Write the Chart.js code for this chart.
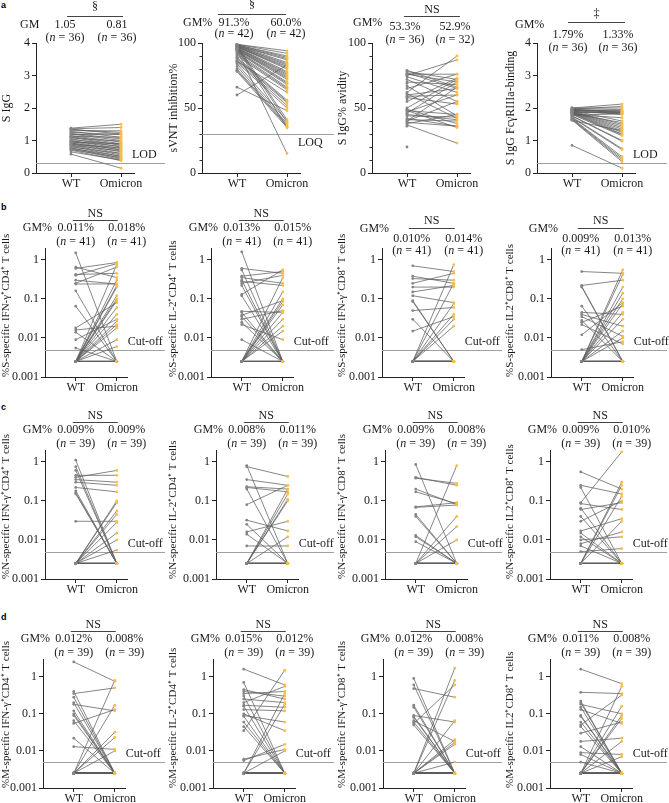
<!DOCTYPE html>
<html>
<head>
<meta charset="utf-8">
<script src="https://cdn.jsdelivr.net/npm/chart.js@4.4.1/dist/chart.umd.min.js"></script>
<style>
  body { margin: 0; background: #fff; width: 669px; height: 803px; position: relative; overflow: hidden; }
  canvas { position: absolute; }
  .tag { position: absolute; font: bold 9px "Liberation Sans", Arial, sans-serif; color: #000; }
</style>
</head>
<body>
<div class="tag" style="left:1px;top:0px">a</div>
<div class="tag" style="left:1px;top:202px">b</div>
<div class="tag" style="left:1px;top:402px">c</div>
<div class="tag" style="left:1px;top:612px">d</div>

<script>
// groups on the x axis
const groups = ['WT', 'Omicron'];
// below cut-off, plotted at half the cut-off
const nd = 0.0025;

// a: antibody readouts
const sIgGWT = [1.38,1.36,1.35,1.33,1.30,1.28,1.25,1.22,1.20,1.18,1.15,1.13,1.12,1.10,1.08,1.05,1.03,1.00,0.98,0.97,0.95,0.93,0.92,0.90,0.88,0.86,0.85,0.83,0.80,0.78,0.76,0.74,0.72,0.70,0.65,0.58];
const sIgGOm = [1.50,1.40,1.20,1.25,1.30,1.10,1.18,1.05,1.00,1.20,0.95,1.10,0.90,0.85,0.98,0.80,0.88,0.75,0.82,0.70,0.90,0.65,0.72,0.60,0.78,0.55,0.68,0.50,0.60,0.45,0.52,0.42,0.48,0.38,0.40,0.15];
const svntWT = [99,99,98.5,98.5,98,98,98,97.5,97.5,97,97,97,96.5,96,96,95.5,95,95,94.5,94,93.5,93,92,91,90,89,88,87,86,85,84,82,80,79,78,98,97,96,95,66,60,86];
const svntOm = [94,92,90,89,88,87,85,84,83,82,81,80,78,77,76,75,74,73,72,70,69,68,66,65,64,56,55,54,52,50,40,38,37,36,35,41,39,35,15,48,83,62];
const avidWT = [79,78,77,76,76,75,74,72,70,67,65,62,61,60,59,58,55,50,49,48,48,47,46,45,44,42,41,40,40,39,38,37,36,20,57,69];
const avidOm = [66,72,65,76,70,87,62,55,68,44,76,90,42,65,60,53,73,72,38,45,35,60,70,41,43,36,40,55,66,36,45,23,null,null,null,null];
const fcgWT = [2.00,2.00,1.98,1.97,1.96,1.95,1.95,1.94,1.93,1.92,1.92,1.90,1.90,1.89,1.88,1.88,1.87,1.86,1.85,1.85,1.84,1.83,1.82,1.80,1.80,1.78,1.76,1.75,1.72,1.70,1.68,1.66,1.65,1.63,1.62,0.85];
const fcgOm = [2.12,2.00,1.95,2.05,1.88,1.90,1.85,1.86,1.80,1.60,1.92,1.50,1.84,1.45,1.82,1.40,1.35,1.30,1.88,1.25,1.20,1.55,1.18,1.15,1.70,1.82,1.00,0.98,0.75,0.72,0.50,0.45,0.40,0.35,1.30,0.15];

// b: S-specific T cells (%)
const sIfn4WT = [1.5,0.65,0.6,0.42,0.4,0.3,0.25,0.24,0.16,0.065,0.018,0.016,0.014,0.009,0.0055,nd,nd,nd,nd,nd,nd,nd,nd,nd,nd,nd,nd,nd,nd,nd,nd,nd,nd,nd,nd,nd,nd,nd,nd,nd,nd];
const sIfn4Om = [nd,0.35,0.85,0.45,0.8,0.24,0.65,0.24,nd,nd,0.08,0.02,nd,0.03,nd,0.75,0.3,0.22,0.1,0.09,0.06,0.04,0.027,0.022,0.018,0.009,0.006,0.2,0.12,nd,nd,nd,nd,nd,nd,nd,nd,nd,nd,nd,nd];
const sIl24WT = [1.6,0.6,0.55,0.38,0.35,0.3,0.28,0.25,0.22,0.13,0.12,0.048,0.045,0.038,0.035,0.03,0.025,0.022,0.009,nd,nd,nd,nd,nd,nd,nd,nd,nd,nd,nd,nd,nd,nd,nd,nd,nd,nd,nd,nd,nd,nd];
const sIl24Om = [nd,0.45,nd,0.5,0.25,nd,0.22,0.4,nd,0.55,nd,0.045,nd,0.09,nd,0.05,nd,0.009,nd,0.35,0.15,0.1,0.085,0.07,0.045,0.03,0.02,0.015,nd,nd,nd,nd,nd,nd,nd,nd,nd,nd,nd,nd,nd];
const sIfn8WT = [0.7,0.38,0.33,0.25,0.2,0.15,0.12,0.09,0.085,0.05,0.03,0.015,nd,nd,nd,nd,nd,nd,nd,nd,nd,nd,nd,nd,nd,nd,nd,nd,nd,nd,nd,nd,nd,nd,nd,nd,nd,nd,nd,nd,nd];
const sIfn8Om = [0.5,0.25,0.3,0.45,0.2,0.22,0.08,nd,nd,0.06,nd,0.035,0.75,0.25,0.075,0.04,0.03,0.02,nd,nd,nd,nd,nd,nd,nd,nd,nd,nd,nd,nd,nd,nd,nd,nd,nd,nd,nd,nd,nd,nd,nd];
const sIl28WT = [0.5,0.22,0.21,0.2,0.065,0.045,0.04,0.035,0.028,0.025,0.022,0.012,0.005,nd,nd,nd,nd,nd,nd,nd,nd,nd,nd,nd,nd,nd,nd,nd,nd,nd,nd,nd,nd,nd,nd,nd,nd,nd,nd,nd,nd];
const sIl28Om = [0.45,0.3,nd,nd,nd,0.04,0.02,0.011,nd,0.065,0.007,0.08,0.008,0.55,0.42,0.2,0.14,0.1,0.075,0.045,0.03,0.015,0.01,nd,nd,nd,nd,nd,nd,nd,nd,nd,nd,nd,nd,nd,nd,nd,nd,nd,nd];

// c: N-specific T cells (%)
const nIfn4WT = [1.1,0.75,0.6,0.45,0.4,0.35,0.3,0.22,0.18,0.16,0.15,0.03,nd,nd,nd,nd,nd,nd,nd,nd,nd,nd,nd,nd,nd,nd,nd,nd,nd,nd,nd,nd,nd,nd,nd,nd,nd,nd,nd];
const nIfn4Om = [nd,nd,nd,0.45,0.6,0.3,0.25,0.17,nd,nd,nd,0.03,0.1,0.09,0.055,0.045,0.028,0.015,0.01,0.0055,nd,nd,nd,nd,nd,nd,nd,nd,nd,nd,nd,nd,nd,nd,nd,nd,nd,nd,nd];
const nIl24WT = [0.8,0.75,0.35,0.23,0.22,0.2,0.08,0.032,0.025,0.016,0.014,0.007,nd,nd,nd,nd,nd,nd,nd,nd,nd,nd,nd,nd,nd,nd,nd,nd,nd,nd,nd,nd,nd,nd,nd,nd,nd,nd,nd];
const nIl24Om = [nd,0.42,0.25,0.2,0.17,nd,0.25,0.017,nd,0.03,nd,0.007,0.15,0.11,0.1,0.2,0.012,nd,nd,nd,nd,nd,nd,nd,nd,nd,nd,nd,nd,nd,nd,nd,nd,nd,nd,nd,nd,nd,nd];
const nIfn8WT = [0.85,0.4,0.38,0.2,0.17,0.07,0.068,0.045,0.04,0.013,0.012,0.009,nd,nd,nd,nd,nd,nd,nd,nd,nd,nd,nd,nd,nd,nd,nd,nd,nd,nd,nd,nd,nd,nd,nd,nd,nd,nd,nd];
const nIfn8Om = [nd,0.25,0.28,0.08,0.085,0.09,0.078,nd,nd,nd,nd,nd,0.8,0.04,0.022,0.01,nd,nd,nd,nd,nd,nd,nd,nd,nd,nd,nd,nd,nd,nd,nd,nd,nd,nd,nd,nd,nd,nd,nd];
const nIl28WT = [0.55,0.25,0.22,0.09,0.085,0.065,0.06,0.04,0.03,0.017,0.015,0.012,0.01,0.008,0.007,0.005,nd,nd,nd,nd,nd,nd,nd,nd,nd,nd,nd,nd,nd,nd,nd,nd,nd,nd,nd,nd,nd,nd,nd];
const nIl28Om = [0.2,0.15,nd,1.8,0.06,nd,0.09,nd,0.1,0.035,nd,nd,0.012,0.016,nd,0.006,0.3,0.25,0.13,0.03,nd,nd,nd,nd,nd,nd,nd,nd,nd,nd,nd,nd,nd,nd,nd,nd,nd,nd,nd];

// d: M-specific T cells (%)
const mIfn4WT = [2.5,0.4,0.35,0.28,0.2,0.18,0.12,0.1,0.09,0.065,0.055,0.022,0.013,nd,nd,nd,nd,nd,nd,nd,nd,nd,nd,nd,nd,nd,nd,nd,nd,nd,nd,nd,nd,nd,nd,nd,nd,nd,nd];
const mIfn4Om = [0.75,nd,0.5,nd,nd,0.12,nd,nd,nd,nd,0.13,nd,0.011,0.8,0.17,0.032,0.023,0.01,nd,nd,nd,nd,nd,nd,nd,nd,nd,nd,nd,nd,nd,nd,nd,nd,nd,nd,nd,nd,nd];
const mIl24WT = [1.6,0.7,0.45,0.4,0.35,0.3,0.25,0.2,0.17,0.16,0.13,0.1,0.09,0.085,0.06,0.045,0.035,0.006,0.0055,nd,nd,nd,nd,nd,nd,nd,nd,nd,nd,nd,nd,nd,nd,nd,nd,nd,nd,nd,nd];
const mIl24Om = [0.6,nd,0.25,0.3,0.4,nd,0.2,0.55,0.15,nd,0.12,0.035,0.06,nd,nd,nd,1.5,0.011,0.015,0.35,0.18,0.01,nd,nd,nd,nd,nd,nd,nd,nd,nd,nd,nd,nd,nd,nd,nd,nd,nd];
const mIfn8WT = [0.9,0.6,0.48,0.17,0.15,0.09,0.085,0.08,0.065,0.06,0.055,0.05,nd,nd,nd,nd,nd,nd,nd,nd,nd,nd,nd,nd,nd,nd,nd,nd,nd,nd,nd,nd,nd,nd,nd,nd,nd,nd,nd];
const mIfn8Om = [nd,nd,0.28,nd,nd,0.06,nd,nd,0.018,nd,0.6,nd,0.8,1.7,0.065,0.02,0.017,0.015,0.005,nd,nd,nd,nd,nd,nd,nd,nd,nd,nd,nd,nd,nd,nd,nd,nd,nd,nd,nd,nd];
const mIl28WT = [1.6,0.38,0.22,0.2,0.18,0.15,0.13,0.09,0.085,0.06,0.05,0.045,0.03,0.018,0.013,0.009,0.008,0.005,nd,nd,nd,nd,nd,nd,nd,nd,nd,nd,nd,nd,nd,nd,nd,nd,nd,nd,nd,nd,nd];
const mIl28Om = [0.65,0.35,nd,nd,0.1,nd,0.055,nd,nd,nd,0.32,nd,0.06,0.022,nd,0.008,nd,nd,0.55,0.16,0.09,0.075,0.018,0.007,nd,nd,nd,nd,nd,nd,nd,nd,nd,nd,nd,nd,nd,nd,nd];

// log axis tick values
const logTicks = [0.001, 0.01, 0.1, 1];

// ---- layout ----
const cols = [0, 167, 336, 504];
const colW = [167, 169, 168, 165];
const rows = [
  { top: 0,   h: 198, cTop: 43,  cBot: 173, xMin: 0.3,  xMax: 2.26, unit: 50, titleSize: 12, titleAlign: 'center' },
  { top: 198, h: 200, cTop: 248, cBot: 377, xMin: 0.25, xMax: 2.25, unit: 41, titleSize: 11, titleAlign: 'start' },
  { top: 398, h: 200, cTop: 450, cBot: 579, xMin: 0.25, xMax: 2.25, unit: 41, titleSize: 11, titleAlign: 'start' },
  { top: 596, h: 207, cTop: 659, cBot: 788, xMin: 0.25, xMax: 2.25, unit: 41, titleSize: 11, titleAlign: 'start' }
];

// text offsets (y from chart top, x from WT / Omicron pixel)
const layA1 = { sym: -36, bar: -27, gm: -18, val: -18, n: -5, gmX: -51, wv: -6, ov: -4, bl: -4, br: 2 };
const layA2 = { sym: -38, bar: -29, gm: -20, val: -20, n: -9, gmX: -54, wv: -3, ov: -1, bl: -19, br: -1 };
const layA3 = { sym: -33, bar: -27, gm: -20, val: -16, n: -3, gmX: -54, wv: -2, ov: -2, bl: -3, br: 3 };
const layA4 = { sym: -29, bar: -21, gm: -18, val: -8, n: 5, gmX: -57, wv: -4, ov: -4, bl: -4, br: 3 };
const layT  = { sym: -34, bar: -28, gm: -20, val: -20, n: -6, gmX: -53, wv: 0, ov: 10, bl: -3, br: 1 };
const layT2 = { sym: -27, bar: -20, gm: -19, val: -9, n: 3, gmX: -53, wv: -1, ov: 10, bl: -4, br: 1 };

const lin4 = { type: 'linear', min: 0, max: 4, step: 1 };
const lin100 = { type: 'linear', min: 0, max: 100, step: 50, minor: 10 };
const log2 = { type: 'logarithmic', min: 0.001, max: 2 };
const log3 = { type: 'logarithmic', min: 0.001, max: 3 };
const cut = { ref: 0.005, refLab: 'Cut-off' };

const panels = [
  { row: 0, col: 0, ax: 36,  wt: sIgGWT, om: sIgGOm, title: 'S IgG', gmLab: 'GM', gm: ['1.05', '0.81'], n: [36, 36], sig: '§', y: lin4, ref: 0.3, refLab: 'LOD', lay: layA1 },
  { row: 0, col: 1, ax: 202, wt: svntWT, om: svntOm, title: 'sVNT inhibition%', gmLab: 'GM%', gm: ['91.3%', '60.0%'], n: [42, 42], sig: '§', y: lin100, ref: 30, refLab: 'LOQ', below: true, lay: layA2 },
  { row: 0, col: 2, ax: 372, wt: avidWT, om: avidOm, title: 'S IgG% avidity', gmLab: 'GM%', gm: ['53.3%', '52.9%'], n: [36, 32], sig: 'NS', y: lin100, ref: null, lay: layA3 },
  { row: 0, col: 3, ax: 537, wt: fcgWT, om: fcgOm, title: 'S IgG FcγRIIIa-binding', gmLab: 'GM%', gm: ['1.79%', '1.33%'], n: [36, 36], sig: '‡', y: lin4, ref: 0.3, refLab: 'LOD', lay: layA4 },

  { row: 1, col: 0, ax: 45,  wt: sIfn4WT, om: sIfn4Om, title: '%S-specific IFN-γ⁺CD4⁺ T cells', gmLab: 'GM%', gm: ['0.011%', '0.018%'], n: [41, 41], sig: 'NS', y: log2, ...cut, lay: layT },
  { row: 1, col: 1, ax: 211, wt: sIl24WT, om: sIl24Om, title: '%S-specific IL-2⁺CD4⁺ T cells', gmLab: 'GM%', gm: ['0.013%', '0.015%'], n: [41, 41], sig: 'NS', y: log2, ...cut, lay: layT },
  { row: 1, col: 2, ax: 382, wt: sIfn8WT, om: sIfn8Om, title: '%S-specific IFN-γ⁺CD8⁺ T cells', gmLab: 'GM%', gm: ['0.010%', '0.014%'], n: [41, 41], sig: 'NS', y: log2, ...cut, lay: layT2 },
  { row: 1, col: 3, ax: 551, wt: sIl28WT, om: sIl28Om, title: '%S-specific IL2⁺CD8⁺ T cells', gmLab: 'GM%', gm: ['0.009%', '0.013%'], n: [41, 41], sig: 'NS', y: log2, ...cut, lay: layT2 },

  { row: 2, col: 0, ax: 45,  wt: nIfn4WT, om: nIfn4Om, title: '%N-specific IFN-γ⁺CD4⁺ T cells', gmLab: 'GM%', gm: ['0.009%', '0.009%'], n: [39, 39], sig: 'NS', y: log2, ...cut, lay: layT },
  { row: 2, col: 1, ax: 216, wt: nIl24WT, om: nIl24Om, title: '%N-specific IL-2⁺CD4⁺ T cells', gmLab: 'GM%', gm: ['0.008%', '0.011%'], n: [39, 39], sig: 'NS', y: log2, ...cut, lay: layT },
  { row: 2, col: 2, ax: 385, wt: nIfn8WT, om: nIfn8Om, title: '%N-specific IFN-γ⁺CD8⁺ T cells', gmLab: 'GM%', gm: ['0.009%', '0.008%'], n: [39, 39], sig: 'NS', y: log2, ...cut, lay: layT },
  { row: 2, col: 3, ax: 550, wt: nIl28WT, om: nIl28Om, title: '%N-specific IL2⁺CD8⁺ T cells', gmLab: 'GM%', gm: ['0.009%', '0.010%'], n: [39, 39], sig: 'NS', y: log2, ...cut, lay: layT },

  { row: 3, col: 0, ax: 43,  wt: mIfn4WT, om: mIfn4Om, title: '%M-specific IFN-γ⁺CD4⁺ T cells', gmLab: 'GM%', gm: ['0.012%', '0.008%'], n: [39, 39], sig: 'NS', y: log3, ...cut, lay: layT },
  { row: 3, col: 1, ax: 213, wt: mIl24WT, om: mIl24Om, title: '%M-specific IL-2⁺CD4⁺ T cells', gmLab: 'GM%', gm: ['0.015%', '0.012%'], n: [39, 39], sig: 'NS', y: log3, ...cut, lay: layT },
  { row: 3, col: 2, ax: 383, wt: mIfn8WT, om: mIfn8Om, title: '%M-specific IFN-γ⁺CD8⁺ T cells', gmLab: 'GM%', gm: ['0.012%', '0.008%'], n: [39, 39], sig: 'NS', y: log3, ...cut, lay: layT },
  { row: 3, col: 3, ax: 550, wt: mIl28WT, om: mIl28Om, title: '%M-specific IL2⁺CD8⁺ T cells', gmLab: 'GM%', gm: ['0.011%', '0.008%'], n: [39, 39], sig: 'NS', y: log3, ...cut, lay: layT }
];

const serif = '"Liberation Serif", "Times New Roman", serif';
const grey = '#858585';
const orange = '#f7bd48';
const ink = '#1a1a1a';

function pairPoints(wt, om) {
  const pts = [];
  wt.forEach((v, i) => {
    pts.push({ x: 1, y: v });
    if (om[i] != null) pts.push({ x: 2, y: om[i] });
    pts.push({ x: 1.5, y: null });
  });
  return pts;
}

function drawN(c, n, cx, y) {
  const parts = [['(', ''], ['n', 'italic '], [' = ' + n + ')', '']];
  let w = 0;
  const ws = parts.map(p => { c.font = p[1] + '12px ' + serif; const m = c.measureText(p[0]).width; w += m; return m; });
  let x = cx - w / 2;
  c.textAlign = 'left';
  parts.forEach((p, i) => { c.font = p[1] + '12px ' + serif; c.fillText(p[0], x, y); x += ws[i]; });
}

function annotPlugin(p) {
  return {
    id: 'annot',
    beforeDatasetsDraw(chart) {
      if (p.ref == null) return;
      const c = chart.ctx, ca = chart.chartArea;
      const ry = Math.round(chart.scales.y.getPixelForValue(p.ref)) + 0.5;
      c.save();
      c.strokeStyle = '#a0a0a0';
      c.lineWidth = 1;
      c.beginPath(); c.moveTo(ca.left, ry); c.lineTo(chart.width - 2, ry); c.stroke();
      c.restore();
    },
    afterDraw(chart) {
      const c = chart.ctx, ca = chart.chartArea, xs = chart.scales.x, ys = chart.scales.y;
      const wx = xs.getPixelForValue(1), ox = xs.getPixelForValue(2), top = ca.top, L = p.lay;
      c.save();
      c.fillStyle = ink;
      c.strokeStyle = '#333';
      c.textBaseline = 'middle';
      // minor ticks
      if (p.y.minor) {
        c.lineWidth = 1;
        for (let v = p.y.min + p.y.minor; v < p.y.max; v += p.y.minor) {
          if (v % p.y.step === 0) continue;
          const yy = Math.round(ys.getPixelForValue(v)) + 0.5;
          c.beginPath(); c.moveTo(ca.left, yy); c.lineTo(ca.left - 2.5, yy); c.stroke();
        }
      }
      // reference label
      if (p.ref != null) {
        const ry = ys.getPixelForValue(p.ref);
        c.font = '12px ' + serif;
        c.textAlign = 'left';
        c.fillText(p.refLab, ox + 11, ry + (p.below ? 9 : -8));
      }
      // significance bar
      const by = Math.round(top + L.bar) + 0.5;
      c.lineWidth = 1;
      c.strokeStyle = '#444';
      c.beginPath(); c.moveTo(wx + L.bl, by); c.lineTo(ox + L.br, by); c.stroke();
      c.font = '12px ' + serif;
      c.textAlign = 'center';
      c.fillText(p.sig, (wx + L.bl + ox + L.br) / 2, top + L.sym);
      // GM row
      c.textAlign = 'left';
      c.fillText(p.gmLab, wx + L.gmX, top + L.gm);
      c.textAlign = 'center';
      c.fillText(p.gm[0], wx + L.wv, top + L.val);
      c.fillText(p.gm[1], ox + L.ov, top + L.val);
      drawN(c, p.n[0], wx + L.wv, top + L.n);
      drawN(c, p.n[1], ox + L.ov, top + L.n);
      c.restore();
    }
  };
}

panels.forEach(p => {
  const r = rows[p.row];
  const left = cols[p.col], w = colW[p.col];
  const yw = p.ax - left;
  const chartW = (r.xMax - r.xMin) * r.unit;
  const cv = document.createElement('canvas');
  cv.width = w; cv.height = r.h;
  cv.style.left = left + 'px'; cv.style.top = r.top + 'px';
  cv.style.width = w + 'px'; cv.style.height = r.h + 'px';
  document.body.appendChild(cv);

  const isLog = p.y.type === 'logarithmic';
  const yScale = {
    type: p.y.type, min: p.y.min, max: p.y.max,
    afterFit: s => { s.width = yw; },
    afterBuildTicks: s => {
      if (isLog) s.ticks = logTicks.map(v => ({ value: v }));
    },
    ticks: {
      stepSize: p.y.step, color: ink, padding: 2, autoSkip: false,
      font: { family: serif, size: 12 },
      callback: v => String(v)
    },
    grid: { drawOnChartArea: false, drawTicks: true, tickLength: 4, color: '#222', lineWidth: 1 },
    border: { display: true, color: '#222', width: 1 },
    title: { display: true, text: p.title, color: ink, padding: 0, align: r.titleAlign, font: { family: serif, size: r.titleSize } }
  };

  new Chart(cv.getContext('2d'), {
    type: 'line',
    data: {
      datasets: [{
        data: pairPoints(p.wt, p.om),
        borderColor: '#5e5e5e',
        borderWidth: 0.75,
        spanGaps: false,
        pointRadius: 1.4,
        pointBorderWidth: 0,
        pointBackgroundColor: ctx => (ctx.raw && ctx.raw.x === 2 ? orange : grey),
        pointHoverRadius: 0
      }]
    },
    options: {
      responsive: false,
      devicePixelRatio: 1,
      animation: false,
      events: [],
      layout: {
        padding: {
          left: 0, top: r.cTop - r.top,
          right: w - yw - chartW,
          bottom: r.h - (r.cBot - r.top) - 14
        }
      },
      plugins: { legend: { display: false }, tooltip: { enabled: false } },
      scales: {
        x: {
          type: 'linear', min: r.xMin, max: r.xMax,
          afterFit: s => { s.height = 14; },
          afterBuildTicks: s => { s.ticks = groups.map((g, i) => ({ value: i + 1 })); },
          ticks: {
            color: ink, padding: 0, autoSkip: false, maxRotation: 0,
            font: { family: serif, size: 12 },
            callback: v => groups[v - 1]
          },
          grid: { drawOnChartArea: false, drawTicks: true, tickLength: 4, color: '#222', lineWidth: 1 },
          border: { display: true, color: '#222', width: 1 }
        },
        y: yScale
      }
    },
    plugins: [annotPlugin(p)]
  });
});
</script>
</body>
</html>
